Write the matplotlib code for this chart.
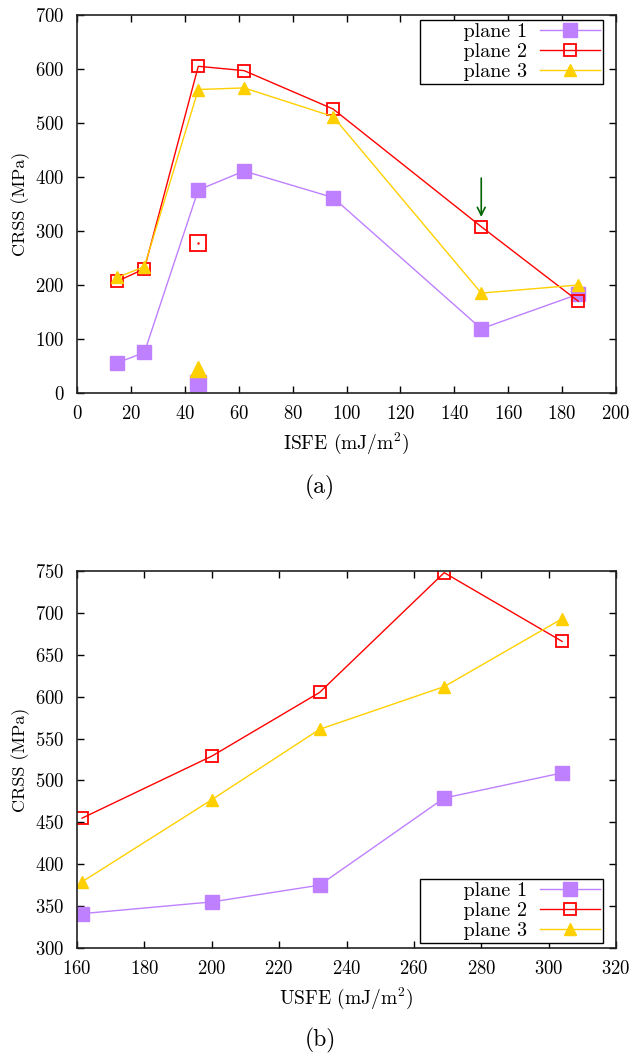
import numpy as np
import matplotlib
matplotlib.use("Agg")
import matplotlib.pyplot as plt

plt.rcParams['font.family'] = ['cmr10', 'DejaVu Serif']
plt.rcParams['mathtext.fontset'] = 'cm'
plt.rcParams['axes.unicode_minus'] = False
plt.rcParams['axes.formatter.use_mathtext'] = True
plt.rcParams['font.size'] = 14

# (a) ISFE data
isfe = [15, 25, 45, 62, 95, 150, 186]
a_plane1 = [56, 75, 376, 411, 362, 119, 183]
a_plane2 = [207, 230, 605, 597, 526, 308, 170]
a_plane3 = [214, 234, 562, 565, 512, 185, 200]
# isolated points at ISFE = 45
iso_x = 45
iso_plane1 = 19
iso_plane2 = 277
iso_plane3 = 44
# arrow at ISFE = 150
arrow_x = 150
arrow_from = 398
arrow_to = 326

# (b) USFE data
usfe = [161.5, 200, 232, 269, 304]
b_plane1 = [341, 355, 375, 479, 509]
b_plane2 = [455, 529, 605, 748, 666]
b_plane3 = [379, 477, 561, 612, 693]

labels = ['plane 1', 'plane 2', 'plane 3']

c1 = '#bf80ff'
c2 = '#ff0000'
c3 = '#ffd000'

W, H = 632, 1056
fig = plt.figure(figsize=(W / 100, H / 100), dpi=100)
ax1 = fig.add_axes([77 / W, 1 - 393 / H, (616 - 77) / W, (393 - 15) / H])
ax2 = fig.add_axes([77 / W, 1 - 948 / H, (616 - 77) / W, (948 - 571) / H])


def draw(ax, x, p1, p2, p3):
    pad = '      '
    ax.plot(x, p1, color=c1, lw=1, marker='s', ms=9.5, mec=c1, mfc=c1,
            label=pad + labels[0])
    ax.plot(x, p2, color=c2, lw=1, marker='s', ms=9, mec=c2, mfc='none', mew=1.3,
            label=pad + labels[1])
    ax.plot(x, p3, color=c3, lw=1, marker='^', ms=9, mec=c3, mfc=c3,
            label=pad + labels[2])


def style(ax, loc, anchor):
    for s in ax.spines.values():
        s.set_linewidth(1.2)
        s.set_color('#222222')
    ax.tick_params(direction='in', length=5, width=1, top=True, right=True, pad=9,
                   labelsize=13.5)
    ax.set_ylabel('CRSS (MPa)', labelpad=4, fontsize=13)
    leg = ax.legend(loc=loc, bbox_to_anchor=anchor, bbox_transform=fig.transFigure,
                    markerfirst=False, fancybox=False, framealpha=1,
                    edgecolor='black', handlelength=3.0, handletextpad=0.6,
                    borderpad=0.15, labelspacing=0.1, borderaxespad=0,
                    fontsize=14.5)
    leg.get_frame().set_linewidth(1.0)


draw(ax1, isfe, a_plane1, a_plane2, a_plane3)
ax1.plot([iso_x], [iso_plane1], ls='none', marker='s', ms=12, color=c1)
ax1.plot([iso_x], [iso_plane2], ls='none', marker='s', ms=12, mec=c2, mfc='none', mew=1.3)
ax1.plot([iso_x], [iso_plane2], ls='none', marker='.', ms=1.5, color=c2)
ax1.plot([iso_x], [iso_plane3], ls='none', marker='^', ms=11, color=c3)
ax1.annotate('', xy=(arrow_x, arrow_to), xytext=(arrow_x, arrow_from),
             arrowprops=dict(arrowstyle='->', color='#006400', lw=1.2,
                             mutation_scale=14, shrinkA=0, shrinkB=0))
ax1.set_xlim(0, 200)
ax1.set_ylim(0, 700)
ax1.set_xticks(np.arange(0, 201, 20))
ax1.set_yticks(np.arange(0, 701, 100))
ax1.set_xlabel(r'ISFE (mJ/m$^2$)', labelpad=5)
style(ax1, 'upper right', (603 / W, 1 - 20 / H))

draw(ax2, usfe, b_plane1, b_plane2, b_plane3)
ax2.set_xlim(160, 320)
ax2.set_ylim(300, 750)
ax2.set_xticks(np.arange(160, 321, 20))
ax2.set_yticks(np.arange(300, 751, 50))
ax2.set_xlabel(r'USFE (mJ/m$^2$)', labelpad=5)
style(ax2, 'lower right', (603 / W, 1 - 943 / H))

fig.text(320 / W, 1 - 487 / H, '(a)', ha='center', va='center', fontsize=17)
fig.text(320 / W, 1 - 1040 / H, '(b)', ha='center', va='center', fontsize=17)

fig.savefig('out.png', dpi=100)
